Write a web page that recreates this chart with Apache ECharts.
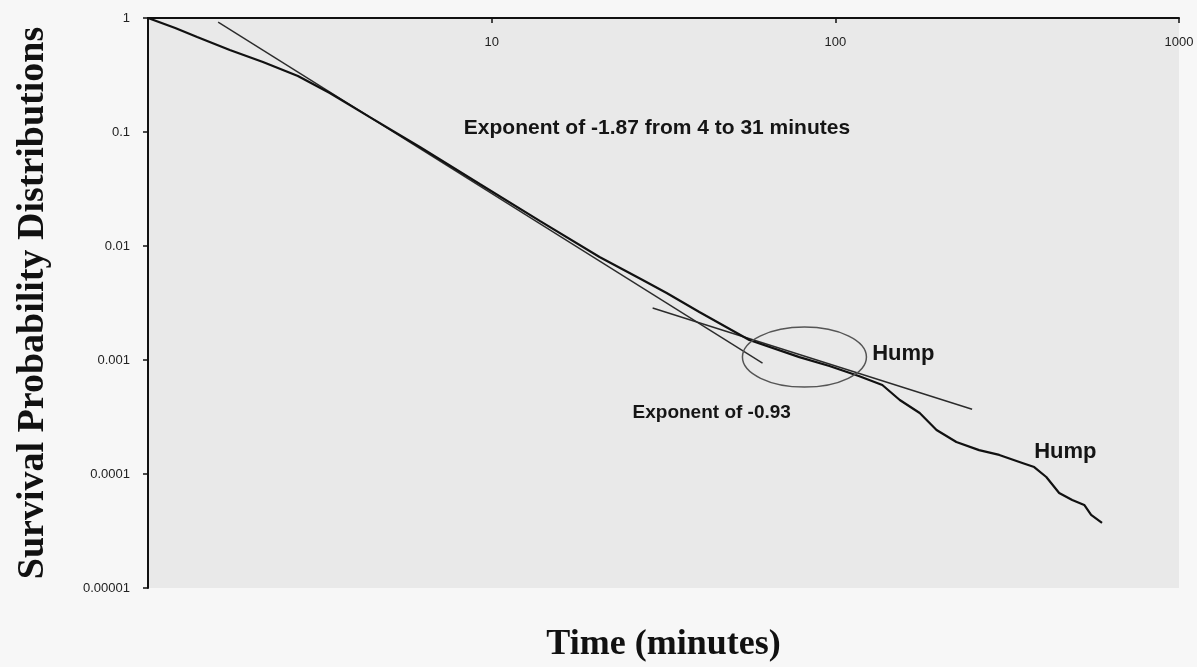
<!DOCTYPE html>
<html>
<head>
<meta charset="utf-8">
<title>Survival probability</title>
<script src="https://cdn.jsdelivr.net/npm/echarts@6/dist/echarts.min.js"></script>
<style>
  html, body { margin: 0; padding: 0; background: #f7f7f7; }
  #chart { width: 1197px; height: 667px; }
</style>
</head>
<body>
<div id="chart"></div>
<script>
// Empirical survival curve: time (minutes) and survival probability
const minutes = [1, 1.2, 1.39, 1.73, 2.16, 2.73, 3.38, 4.42, 6.18, 9.23, 13.8, 20.6,
  27.5, 32.3, 40.2, 56.2, 78.6, 96.1, 117, 137, 154, 176, 197, 225, 262, 300, 350,
  379, 411, 448, 489, 530, 555, 597];
const survival = [1, 0.817, 0.681, 0.524, 0.411, 0.31, 0.22, 0.135, 0.0739, 0.035,
  0.0166, 0.008, 0.00504, 0.00387, 0.00264, 0.0015, 0.00106, 0.000886, 0.000724,
  0.000604, 0.000446, 0.000343, 0.000243, 0.000191, 0.000162, 0.000147, 0.000125,
  0.000115, 0.0000941, 0.0000681, 0.0000591, 0.0000535, 0.0000437, 0.0000372];

// Fitted power laws (end points)
const steepFitX = [1.6, 61.4];      // exponent -1.87
const steepFitY = [0.92, 0.00094];
const shallowFitX = [29.4, 250];    // exponent -0.93
const shallowFitY = [0.00286, 0.00037];

// Axis tick labels
const xTickLabels = ['1', '10', '100', '1000'];
const yTickLabels = ['1', '0.1', '0.01', '0.001', '0.0001', '0.00001'];

// Annotation texts
const noteTexts = ['Exponent of -1.87 from 4 to 31 minutes', 'Exponent of -0.93', 'Hump', 'Hump'];

// Where annotations sit, in data coordinates (left-middle anchor), and their font sizes
const noteAnchors = [[8.3, 0.108], [25.7, 0.000343], [128, 0.00113], [379, 0.000156]];
const noteFontSizes = [21, 19, 22, 22];
// Ellipse around the first hump (centre in data coordinates)
const humpCentre = [81.3, 0.00106];

const chart = echarts.init(document.getElementById('chart'));

const pairs = (xs, ys) => xs.map((x, i) => [x, ys[i]]);
const decade = v => Math.round(Math.log10(v));

const option = {
  backgroundColor: '#f7f7f7',
  animation: false,
  grid: {
    left: 148, right: 18, top: 18, bottom: 79,
    show: true, backgroundColor: '#e9e9e9', borderWidth: 0
  },
  xAxis: {
    type: 'log', logBase: 10, min: 1, max: 1000,
    position: 'top',
    axisLine: { show: true, lineStyle: { color: '#111', width: 2 } },
    axisTick: { show: true, inside: true, length: 5, lineStyle: { color: '#111', width: 1.5 } },
    axisLabel: {
      inside: true, margin: 18, showMinLabel: false,
      color: '#222', fontSize: 13, fontFamily: 'Liberation Sans',
      formatter: v => xTickLabels[decade(v)]
    },
    splitLine: { show: false }
  },
  yAxis: {
    type: 'log', logBase: 10, min: 0.00001, max: 1,
    axisLine: { show: true, lineStyle: { color: '#111', width: 2 } },
    axisTick: { show: true, inside: false, length: 5, lineStyle: { color: '#111', width: 1.5 } },
    axisLabel: {
      margin: 18, color: '#222', fontSize: 13, fontFamily: 'Liberation Sans',
      formatter: v => yTickLabels[-decade(v)]
    },
    splitLine: { show: false },
    name: 'Survival Probability Distributions',
    nameLocation: 'middle', nameGap: 96,
    nameTextStyle: { fontFamily: 'Liberation Serif', fontWeight: 'bold', fontSize: 38, color: '#111' }
  },
  series: [
    {
      name: 'survival', type: 'line', data: pairs(minutes, survival),
      showSymbol: false, lineStyle: { color: '#111', width: 2.2 }, z: 3
    },
    {
      name: 'fit -1.87', type: 'line', data: pairs(steepFitX, steepFitY),
      showSymbol: false, lineStyle: { color: '#2b2b2b', width: 1.4 }, z: 2
    },
    {
      name: 'fit -0.93', type: 'line', data: pairs(shallowFitX, shallowFitY),
      showSymbol: false, lineStyle: { color: '#2b2b2b', width: 1.4 }, z: 2
    }
  ]
};

chart.setOption(option);

// Annotations placed through the axes' own scales
const toPx = p => chart.convertToPixel({ gridIndex: 0 }, p);
const gridRect = chart.getModel().getComponent('grid', 0).coordinateSystem.getRect();
const centre = toPx(humpCentre);

const graphics = noteTexts.map((t, i) => {
  const p = toPx(noteAnchors[i]);
  return {
    type: 'text', x: p[0], y: p[1], z: 10,
    style: {
      text: t, fill: '#151515',
      font: 'bold ' + noteFontSizes[i] + 'px "Liberation Sans", Arial, sans-serif',
      textAlign: 'left', textVerticalAlign: 'middle'
    }
  };
});
graphics.push({
  type: 'ellipse', z: 9,
  shape: { cx: centre[0], cy: centre[1], rx: 62, ry: 30 },
  style: { fill: 'none', stroke: '#555', lineWidth: 1.5 }
});
graphics.push({
  type: 'text', x: gridRect.x + gridRect.width / 2, y: 645, z: 10,
  style: {
    text: 'Time (minutes)', fill: '#111',
    font: 'bold 36px "Liberation Serif", "Times New Roman", serif',
    textAlign: 'center', textVerticalAlign: 'middle'
  }
});

chart.setOption({ graphic: graphics });
</script>
</body>
</html>
